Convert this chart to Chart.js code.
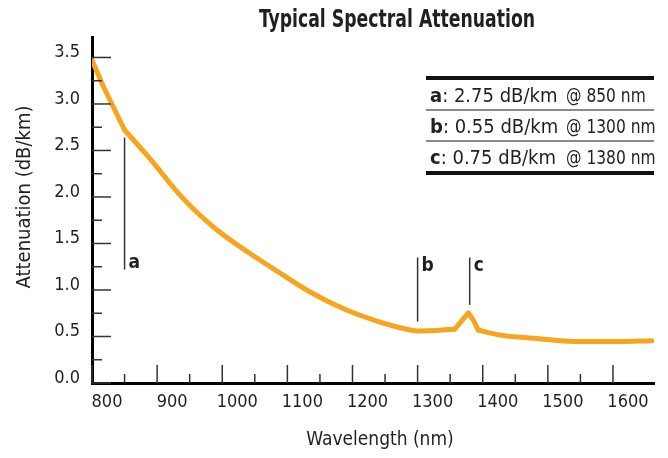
<!DOCTYPE html>
<html>
<head>
<meta charset="utf-8">
<script src="https://cdn.jsdelivr.net/npm/chart.js@4.4.0/dist/chart.umd.min.js"></script>
<style>
  body { margin: 0; background: #fff; }
  #wrap {
    position: relative; width: 668px; height: 458px;
    font-family: 'DejaVu Sans Condensed', 'Liberation Sans', sans-serif;
    color: #231f20;
  }
  #title {
    position: absolute; left: 397px; top: 5px;
    transform: translateX(-50%) scaleX(0.8);
    font-size: 24px; font-weight: bold; white-space: nowrap;
  }
  #spec {
    position: absolute; left: 426px; top: 76px; width: 228px;
    border-collapse: collapse; table-layout: fixed; font-size: 20px;
    border-top: 4px solid #111; border-bottom: 4px solid #111;
  }
  #spec td { height: 29px; padding: 0; white-space: nowrap; overflow: visible; }
  #spec td:first-child { width: 136px; padding-left: 4px; }
  #spec td:last-child { width: 88px; }
  #spec td:last-child span { display: inline-block; transform: scaleX(0.86); transform-origin: left center; }
  #spec tr + tr td { border-top: 2px solid #8a8a8a; }
  canvas { position: absolute; left: 0; top: 0; }
</style>
</head>
<body>
<div id="wrap">
  <canvas id="chart" width="668" height="458"></canvas>
  <div id="title">Typical Spectral Attenuation</div>
  <table id="spec"></table>
</div>
<script>
// curve
const wavelengths = [800, 818, 850, 888, 939, 991, 1041, 1087, 1137, 1189, 1240, 1270, 1300, 1330, 1357, 1378, 1386, 1393, 1427, 1479, 1520, 1560, 1610, 1660];
const attenuation = [3.47, 3.18, 2.72, 2.42, 1.99, 1.65, 1.40, 1.19, 0.97, 0.79, 0.66, 0.60, 0.56, 0.565, 0.58, 0.755, 0.67, 0.57, 0.515, 0.48, 0.455, 0.445, 0.445, 0.455];

// tick values
const xTickValues = [800, 900, 1000, 1100, 1200, 1300, 1400, 1500, 1600];
const xMinorTicks = [850, 950, 1050, 1150, 1250, 1350, 1450, 1550];
const yTickValues = [0, 0.5, 1.0, 1.5, 2.0, 2.5, 3.0, 3.5];
const yMinorTicks = [0.25, 0.75, 1.25, 1.75, 2.25, 2.75, 3.25];

// marker lines a, b, c
const markNames = ['a', 'b', 'c'];
const markNm = [850, 1300, 1380];
const markLow = [1.22, 0.66, 0.84];
const markHigh = [2.64, 1.35, 1.35];

// spec table
const specNames = ['a', 'b', 'c'];
const specLoss = ['2.75', '0.55', '0.75'];
const specAt = ['850', '1300', '1380'];

const FONT = "'DejaVu Sans Condensed', 'Liberation Sans', sans-serif";
const INK = '#231f20';
const ORANGE = '#f7a51e';

const table = document.getElementById('spec');
specNames.forEach((n, i) => {
  const tr = document.createElement('tr');
  tr.innerHTML = '<td><b>' + n + '</b>: ' + specLoss[i] + ' dB/km</td><td><span>@ ' + specAt[i] + ' nm</span></td>';
  table.appendChild(tr);
});

// tick marks drawn inside the plot, the a/b/c letters and the axis titles
const axisMarks = {
  id: 'axisMarks',
  afterDatasetsDraw(chart) {
    const { ctx, chartArea, scales: { x, y } } = chart;
    ctx.save();
    ctx.strokeStyle = '#333';
    ctx.lineWidth = 1.5;
    const seg = (x1, y1, x2, y2) => {
      ctx.beginPath(); ctx.moveTo(x1, y1); ctx.lineTo(x2, y2); ctx.stroke();
    };
    xTickValues.forEach(v => { const px = x.getPixelForValue(v); seg(px, chartArea.bottom, px, chartArea.bottom - 18); });
    xMinorTicks.forEach(v => { const px = x.getPixelForValue(v); seg(px, chartArea.bottom, px, chartArea.bottom - 9); });
    yTickValues.forEach(v => { const py = y.getPixelForValue(v); seg(chartArea.left, py, chartArea.left + 19, py); });
    yMinorTicks.forEach(v => { const py = y.getPixelForValue(v); seg(chartArea.left, py, chartArea.left + 10, py); });

    ctx.fillStyle = INK;
    ctx.font = 'bold 19px ' + FONT;
    ctx.textAlign = 'left';
    markNames.forEach((n, i) => {
      const px = x.getPixelForValue(markNm[i]) + 4;
      if (i === 0) {
        ctx.textBaseline = 'bottom';
        ctx.fillText(n, px, y.getPixelForValue(markLow[i]) + 3);
      } else {
        ctx.textBaseline = 'top';
        ctx.fillText(n, px, y.getPixelForValue(markHigh[i]) - 1);
      }
    });

    ctx.font = '19px ' + FONT;
    ctx.textAlign = 'center';
    ctx.textBaseline = 'middle';
    ctx.fillText('Wavelength (nm)', chartArea.left + 288, chartArea.bottom + 57);

    ctx.font = '20px ' + FONT;
    ctx.translate(25, chartArea.top + 160);
    ctx.rotate(-Math.PI / 2);
    ctx.fillText('Attenuation (dB/km)', 0, 0);
    ctx.restore();
  }
};

// curve pieces: straight through the 850 nm knee and the 1380 nm peak, smooth elsewhere
const pieces = [[0, 2, false], [2, 14, true], [14, 17, false], [17, wavelengths.length - 1, true]];
const curveSets = pieces.map(([a, b, smooth]) => ({
  label: 'Attenuation',
  data: wavelengths.slice(a, b + 1).map((w, k) => ({ x: w, y: attenuation[a + k] })),
  borderColor: ORANGE,
  borderWidth: 5,
  pointRadius: 0,
  cubicInterpolationMode: smooth ? 'monotone' : 'default',
  tension: 0,
  borderJoinStyle: 'round',
  borderCapStyle: 'round'
}));

const markSets = markNames.map((n, i) => ({
  label: n,
  data: [{ x: markNm[i], y: markLow[i] }, { x: markNm[i], y: markHigh[i] }],
  borderColor: '#333',
  borderWidth: 1.5,
  pointRadius: 0
}));

new Chart(document.getElementById('chart'), {
  type: 'line',
  data: { datasets: [...curveSets, ...markSets] },
  plugins: [axisMarks],
  options: {
    responsive: false,
    animation: false,
    layout: { padding: { top: 37, right: 14, left: 0, bottom: 0 } },
    plugins: { legend: { display: false }, tooltip: { enabled: false } },
    scales: {
      x: {
        type: 'linear',
        min: 800,
        max: 1663,
        afterBuildTicks: s => { s.ticks = xTickValues.map(v => ({ value: v })); },
        afterFit: s => { s.height = 75; },
        grid: { display: true, drawOnChartArea: false, drawTicks: false },
        border: { color: '#000', width: 3 },
        ticks: {
          autoSkip: false, maxRotation: 0, padding: 9, labelOffset: 15,
          color: INK, font: { family: FONT, size: 18 },
          callback: v => String(v)
        }
      },
      y: {
        min: 0,
        max: 3.72,
        afterBuildTicks: s => { s.ticks = yTickValues.map(v => ({ value: v })); },
        afterFit: s => { s.width = 92; },
        grid: { display: true, drawOnChartArea: false, drawTicks: false },
        border: { color: '#000', width: 3 },
        ticks: {
          padding: 12, labelOffset: -5,
          color: INK, font: { family: FONT, size: 18 },
          callback: v => v.toFixed(1)
        }
      }
    }
  }
});
</script>
</body>
</html>
